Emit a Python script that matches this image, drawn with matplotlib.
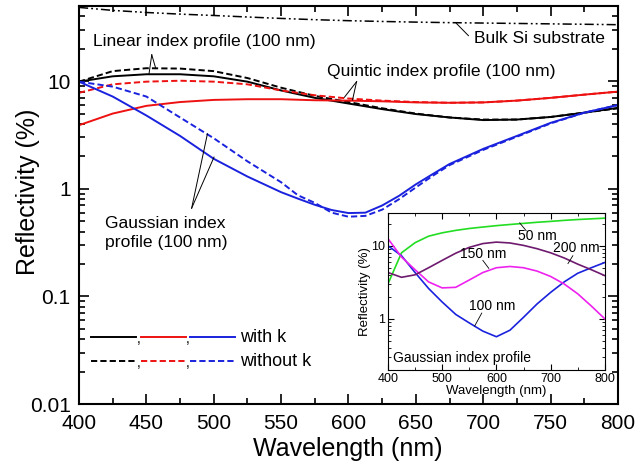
import matplotlib
matplotlib.use("Agg")
import matplotlib.pyplot as plt
from matplotlib.ticker import LogLocator, NullFormatter, MultipleLocator, FixedLocator, FixedFormatter

plt.rcParams["font.family"] = ["Liberation Sans", "DejaVu Sans"]

# main panel data (reflectivity in %)
wavelength = [400, 425, 450, 475, 500, 525, 550, 575, 600, 625, 650, 675, 700, 725, 750, 775, 800]

bulk_si = [48.5, 45.5, 43.5, 42.0, 40.8, 39.5, 38.3, 37.3, 36.5, 35.9, 35.4, 35.0, 34.7, 34.4, 34.1, 33.8, 33.5]

linear_k = [9.9, 11.1, 11.6, 11.6, 11.1, 9.9, 8.2, 7.0, 6.2, 5.5, 4.95, 4.6, 4.35, 4.4, 4.65, 5.1, 5.65]
linear_nok = [9.9, 12.4, 13.2, 13.1, 12.4, 10.7, 8.7, 7.3, 6.4, 5.6, 5.0, 4.6, 4.4, 4.4, 4.65, 5.1, 5.6]

quintic_k = [3.9, 5.0, 5.9, 6.4, 6.7, 6.8, 6.8, 6.65, 6.6, 6.5, 6.35, 6.3, 6.35, 6.6, 7.0, 7.5, 8.0]
quintic_nok = [7.8, 9.35, 9.9, 10.1, 9.9, 9.35, 8.2, 7.4, 6.9, 6.6, 6.4, 6.3, 6.35, 6.6, 7.0, 7.5, 8.0]

# Gaussian curves read on a finer grid around the minimum
gauss_wl = [400, 425, 450, 475, 500, 525, 550, 562.5, 575, 587.5, 600, 612.5, 625, 637.5,
            650, 662.5, 675, 700, 725, 750, 775, 800]
gauss_k = [9.9, 7.2, 4.8, 3.1, 1.9, 1.3, 0.93, 0.81, 0.71, 0.635, 0.595, 0.60, 0.70, 0.86,
           1.1, 1.37, 1.7, 2.35, 3.1, 4.1, 5.1, 6.0]
gauss_nok = [9.9, 8.9, 7.2, 4.6, 2.95, 1.8, 1.15, 0.87, 0.74, 0.6, 0.55, 0.56, 0.64, 0.8,
             1.03, 1.32, 1.66, 2.3, 3.05, 4.05, 5.1, 6.0]

# inset: Gaussian index profile, different thicknesses
inset_wl = [400, 425, 450, 475, 500, 525, 550, 575, 600, 625, 650, 675, 700, 725, 750, 775, 800]
g50 = [3.0, 8.0, 11.0, 13.5, 15.0, 16.2, 17.2, 18.0, 18.8, 19.5, 20.2, 20.9, 21.5, 22.2, 22.8, 23.3, 23.8]
g100 = [10.0, 7.3, 4.3, 2.6, 1.7, 1.15, 0.88, 0.68, 0.57, 0.7, 1.05, 1.6, 2.3, 3.2, 4.2, 5.0, 5.9]
g150 = [12.5, 7.0, 4.7, 3.2, 2.65, 2.7, 3.4, 4.3, 5.0, 5.2, 5.0, 4.5, 3.8, 3.0, 2.2, 1.5, 1.0]
g200 = [4.3, 3.7, 4.0, 5.0, 6.3, 7.9, 9.5, 10.7, 11.2, 10.9, 10.1, 9.1, 8.0, 6.8, 5.6, 4.7, 3.9]

BLACK = "#000000"
RED = "#ee1111"
BLUE = "#1a22dd"

fig = plt.figure(figsize=(6.36, 4.67), dpi=100)
ax = fig.add_axes([0.1242, 0.1349, 0.8475, 0.8523])

lw = 1.4
dash = (0, (3.2, 1.6))
ax.plot(wavelength, bulk_si, color=BLACK, lw=1.1, linestyle=(0, (6, 2, 1.2, 2, 1.2, 2)))
ax.plot(wavelength, linear_k, color=BLACK, lw=lw)
ax.plot(wavelength, linear_nok, color=BLACK, lw=lw, linestyle=dash)
ax.plot(wavelength, quintic_k, color=RED, lw=lw)
ax.plot(wavelength, quintic_nok, color=RED, lw=lw, linestyle=dash)
ax.plot(gauss_wl, gauss_k, color=BLUE, lw=lw)
ax.plot(gauss_wl, gauss_nok, color=BLUE, lw=lw, linestyle=dash)

ax.set_yscale("log")
ax.set_xlim(400, 800)
ax.set_ylim(0.01, 50)
ax.xaxis.set_major_locator(MultipleLocator(50))
ax.xaxis.set_minor_locator(MultipleLocator(25))
ax.yaxis.set_major_locator(FixedLocator([0.01, 0.1, 1, 10]))
ax.yaxis.set_major_formatter(FixedFormatter(["0.01", "0.1", "1", "10"]))
ax.yaxis.set_minor_locator(LogLocator(base=10, subs=range(2, 10)))
ax.yaxis.set_minor_formatter(NullFormatter())
ax.tick_params(which="both", direction="in", top=True, right=True, labelsize=15, width=1.2)
ax.tick_params(which="major", length=7)
ax.tick_params(which="minor", length=4)
ax.tick_params(axis="x", pad=7)
ax.tick_params(axis="y", pad=6)
for s in ax.spines.values():
    s.set_linewidth(1.5)
ax.set_xlabel("Wavelength (nm)", fontsize=18)
ax.set_ylabel("Reflectivity (%)", fontsize=18)
ax.xaxis.set_label_coords(0.498, -0.083)
ax.yaxis.set_label_coords(-0.072, 0.533)

fs = 12.6
lc = dict(color=BLACK, lw=0.7)
# Linear
ax.text(493, 23.3, "Linear index profile (100 nm)", fontsize=fs, ha="center", va="center")
ax.plot([454, 452], [17.6, 11.8], **lc)
ax.plot([454, 457], [17.6, 13.1], **lc)
# Quintic
ax.text(669, 12.3, "Quintic index profile (100 nm)", fontsize=fs, ha="center", va="center")
ax.plot([606, 597], [9.9, 7.1], **lc)
ax.plot([606, 603], [9.9, 6.7], **lc)
# Bulk Si
ax.text(693, 24.9, "Bulk Si substrate", fontsize=fs, ha="left", va="center")
ax.plot([680, 689], [34.5, 26.5], **lc)
# Gaussian
ax.text(419, 0.39, "Gaussian index\nprofile (100 nm)", fontsize=fs, ha="left", va="center",
        linespacing=1.35)
ax.plot([483.6, 495.3], [0.66, 3.24], **lc)
ax.plot([483.6, 500.2], [0.66, 1.97], **lc)

# legend drawn by hand
tr = ax.transAxes
y_solid, y_dash = 0.168, 0.108
segs = [(0.022, 0.106, BLACK), (0.115, 0.199, RED), (0.206, 0.289, BLUE)]
for x0, x1, c in segs:
    ax.plot([x0, x1], [y_solid, y_solid], color=c, lw=lw, transform=tr)
    ax.plot([x0, x1], [y_dash, y_dash], color=c, lw=lw, linestyle=dash, transform=tr)
for xc in (0.110, 0.202):
    ax.text(xc, y_solid - 0.005, ",", fontsize=10, ha="center", va="center", transform=tr)
    ax.text(xc, y_dash - 0.005, ",", fontsize=10, ha="center", va="center", transform=tr)
ax.text(0.299, y_solid, "with k", fontsize=13, ha="left", va="center", transform=tr)
ax.text(0.299, y_dash, "without k", fontsize=13, ha="left", va="center", transform=tr)

# inset
ins = fig.add_axes([0.610, 0.2077, 0.341, 0.3362])
ins.plot(inset_wl, g50, color="#22dd22", lw=1.2)
ins.plot(inset_wl, g100, color=BLUE, lw=1.2)
ins.plot(inset_wl, g150, color="#ee22ee", lw=1.2)
ins.plot(inset_wl, g200, color="#6e1a6e", lw=1.2)
ins.set_yscale("log")
ins.set_xlim(400, 800)
ins.set_ylim(0.2, 28)
ins.xaxis.set_major_locator(MultipleLocator(100))
ins.xaxis.set_minor_locator(MultipleLocator(50))
ins.yaxis.set_major_locator(FixedLocator([1, 10]))
ins.yaxis.set_major_formatter(FixedFormatter(["1", "10"]))
ins.yaxis.set_minor_locator(LogLocator(base=10, subs=range(2, 10)))
ins.yaxis.set_minor_formatter(NullFormatter())
ins.tick_params(which="both", direction="in", top=True, right=True, labelsize=9, pad=2)
ins.tick_params(which="major", length=4)
ins.tick_params(which="minor", length=2)
ins.set_xlabel("Wavelength (nm)", fontsize=9.5, labelpad=0)
ins.set_ylabel("Reflectivity (%)", fontsize=9.5, labelpad=0)

ifs = 10
ins.text(676, 13.6, "50 nm", fontsize=ifs, ha="center", va="center")
ins.plot([643, 655], [20.5, 16.0], color=BLACK, lw=0.6)
ins.text(748, 9.4, "200 nm", fontsize=ifs, ha="center", va="center")
ins.plot([741, 732], [7.3, 5.7], color=BLACK, lw=0.6)
ins.text(575, 7.8, "150 nm", fontsize=ifs, ha="center", va="center")
ins.plot([575, 586], [6.3, 4.9], color=BLACK, lw=0.6)
ins.text(592, 1.5, "100 nm", fontsize=ifs, ha="center", va="center")
ins.plot([573, 560], [1.2, 0.8], color=BLACK, lw=0.6)
ins.text(0.023, 0.076, "Gaussian index profile", fontsize=ifs, ha="left", va="center",
         transform=ins.transAxes)

fig.savefig("out.png", dpi=100)
